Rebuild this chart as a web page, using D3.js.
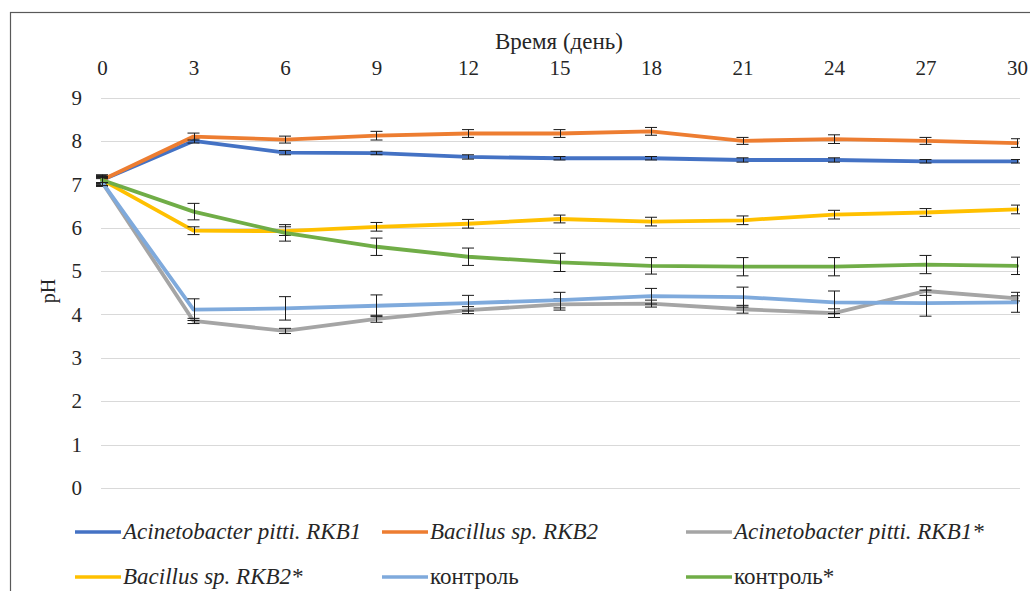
<!DOCTYPE html>
<html>
<head>
<meta charset="utf-8">
<script src="https://cdn.jsdelivr.net/npm/d3@7"></script>
<style>
  html, body { margin: 0; padding: 0; background: #fff; }
  svg { display: block; }
  svg text { font-family: "Liberation Serif", "Tinos", "Times New Roman", "DejaVu Serif", serif !important; }
</style>
</head>
<body>
<svg id="chart" width="1030" height="591"></svg>
<script>
// Sampling days (top axis)
const days = [0, 3, 6, 9, 12, 15, 18, 21, 24, 27, 30];
const yTicks = [0, 1, 2, 3, 4, 5, 6, 7, 8, 9];

// Mean pH per series
const acinetobacter      = [7.10, 8.00, 7.73, 7.72, 7.63, 7.60, 7.60, 7.56, 7.56, 7.53, 7.53];
const bacillus           = [7.10, 8.10, 8.03, 8.12, 8.17, 8.17, 8.22, 8.00, 8.04, 8.00, 7.95];
const acinetobacterStar  = [7.05, 3.85, 3.62, 3.90, 4.10, 4.23, 4.25, 4.12, 4.03, 4.54, 4.37];
const bacillusStar       = [7.10, 5.93, 5.92, 6.02, 6.09, 6.20, 6.14, 6.17, 6.30, 6.35, 6.42];
const control            = [7.05, 4.11, 4.14, 4.20, 4.26, 4.33, 4.42, 4.40, 4.28, 4.26, 4.28];
const controlStar        = [7.10, 6.37, 5.88, 5.56, 5.33, 5.20, 5.12, 5.10, 5.10, 5.15, 5.12];

// Error (± pH) per series
const acinetobacterErr     = [0.10, 0.05, 0.05, 0.04, 0.05, 0.04, 0.04, 0.05, 0.05, 0.04, 0.04];
const bacillusErr          = [0.12, 0.08, 0.08, 0.10, 0.09, 0.09, 0.09, 0.08, 0.10, 0.08, 0.10];
const acinetobacterStarErr = [0.10, 0.06, 0.06, 0.08, 0.08, 0.13, 0.08, 0.09, 0.10, 0.10, 0.06];
const bacillusStarErr      = [0.08, 0.09, 0.10, 0.10, 0.10, 0.09, 0.10, 0.10, 0.10, 0.09, 0.10];
const controlErr           = [0.08, 0.25, 0.27, 0.25, 0.18, 0.18, 0.18, 0.23, 0.26, 0.30, 0.23];
const controlStarErr       = [0.06, 0.19, 0.19, 0.20, 0.20, 0.21, 0.19, 0.21, 0.21, 0.21, 0.20];

const seriesNames = [
  "Acinetobacter pitti. RKB1",
  "Bacillus sp. RKB2",
  "Acinetobacter pitti. RKB1*",
  "Bacillus sp. RKB2*",
  "контроль",
  "контроль*"
];

const series = [
  { name: seriesNames[0], values: acinetobacter,     err: acinetobacterErr,     color: "#4472C4", italic: true },
  { name: seriesNames[1], values: bacillus,          err: bacillusErr,          color: "#ED7D31", italic: true },
  { name: seriesNames[2], values: acinetobacterStar, err: acinetobacterStarErr, color: "#A5A5A5", italic: true },
  { name: seriesNames[3], values: bacillusStar,      err: bacillusStarErr,      color: "#FFC000", italic: true },
  { name: seriesNames[4], values: control,           err: controlErr,           color: "#7FAADC", italic: false },
  { name: seriesNames[5], values: controlStar,       err: controlStarErr,       color: "#70AD47", italic: false }
];

const svg = d3.select("#chart");

// Outer frame
svg.append("rect")
  .attr("x", 10.5).attr("y", 12.5)
  .attr("width", 1040).attr("height", 600)
  .attr("fill", "#fff").attr("stroke", "#595959").attr("stroke-width", 1.2);

const x = d3.scaleLinear().domain([0, 30]).range([102, 1017]);
const y = d3.scaleLinear().domain([0, 9]).range([488, 97.5]);
const gridLeft = 101, gridRight = 1020;

// Horizontal gridlines
svg.append("g")
  .selectAll("line")
  .data(yTicks)
  .join("line")
  .attr("x1", gridLeft).attr("x2", gridRight)
  .attr("y1", d => Math.round(y(d)) + 0.5).attr("y2", d => Math.round(y(d)) + 0.5)
  .attr("stroke", "#d9d9d9").attr("stroke-width", 1);

// Left value axis
const yAxis = svg.append("g")
  .attr("transform", `translate(${gridLeft},0)`)
  .call(d3.axisLeft(y).tickValues(yTicks).tickFormat(d3.format("d")).tickSize(0).tickPadding(19));
yAxis.select(".domain").remove();
yAxis.attr("font-family", null);
yAxis.selectAll("text").attr("font-size", 21).attr("fill", "#262626");

// Top day axis
const xAxis = svg.append("g")
  .attr("transform", "translate(0,83)")
  .call(d3.axisTop(x).tickValues(days).tickFormat(d3.format("d")).tickSize(0).tickPadding(8));
xAxis.select(".domain").remove();
xAxis.attr("font-family", null);
xAxis.selectAll("text").attr("font-size", 21).attr("fill", "#262626");

// Axis titles
svg.append("text")
  .attr("x", 559).attr("y", 49)
  .attr("text-anchor", "middle")
  .attr("font-size", 23).attr("fill", "#262626")
  .text("Время (день)");

svg.append("text")
  .attr("transform", "translate(55,291) rotate(-90)")
  .attr("text-anchor", "middle")
  .attr("font-size", 20).attr("fill", "#262626")
  .text("pH");

// Clip to plot area so the last error caps are cut at the edge
svg.append("defs").append("clipPath").attr("id", "plotClip")
  .append("rect").attr("x", 90).attr("y", 90).attr("width", gridRight - 90).attr("height", 410);

const plot = svg.append("g").attr("clip-path", "url(#plotClip)");

const line = d3.line()
  .x((d, i) => x(days[i]))
  .y(d => y(d));

series.forEach(s => {
  plot.append("path")
    .datum(s.values)
    .attr("fill", "none")
    .attr("stroke", s.color)
    .attr("stroke-width", 3.8)
    .attr("stroke-linejoin", "round")
    .attr("stroke-linecap", "round")
    .attr("d", line);

  const eb = plot.append("g").attr("stroke", "#1a1a1a").attr("stroke-width", 1);
  const pts = s.values.map((v, i) => ({ day: days[i], v, e: s.err[i] }));
  eb.selectAll("line.v").data(pts).join("line").attr("class", "v")
    .attr("x1", d => Math.round(x(d.day)) + 0.5).attr("x2", d => Math.round(x(d.day)) + 0.5)
    .attr("y1", d => y(d.v + d.e)).attr("y2", d => y(d.v - d.e));
  eb.selectAll("line.t").data(pts).join("line").attr("class", "t")
    .attr("x1", d => x(d.day) - 6).attr("x2", d => x(d.day) + 6)
    .attr("y1", d => y(d.v + d.e)).attr("y2", d => y(d.v + d.e));
  eb.selectAll("line.b").data(pts).join("line").attr("class", "b")
    .attr("x1", d => x(d.day) - 6).attr("x2", d => x(d.day) + 6)
    .attr("y1", d => y(d.v - d.e)).attr("y2", d => y(d.v - d.e));
});

// Legend: three columns, two rows
const legendCols = [75, 382, 686];
const legendRows = [532, 577];
const legend = svg.append("g");
series.forEach((s, i) => {
  const lx = legendCols[i % 3];
  const ly = legendRows[Math.floor(i / 3)];
  legend.append("line")
    .attr("x1", lx).attr("x2", lx + 46)
    .attr("y1", ly).attr("y2", ly)
    .attr("stroke", s.color).attr("stroke-width", 3.6);
  legend.append("text")
    .attr("x", lx + 48).attr("y", ly + 7)
    .attr("font-size", 23)
    .attr("font-style", s.italic ? "italic" : "normal")
    .attr("fill", "#262626")
    .text(s.name);
});
</script>
</body>
</html>
